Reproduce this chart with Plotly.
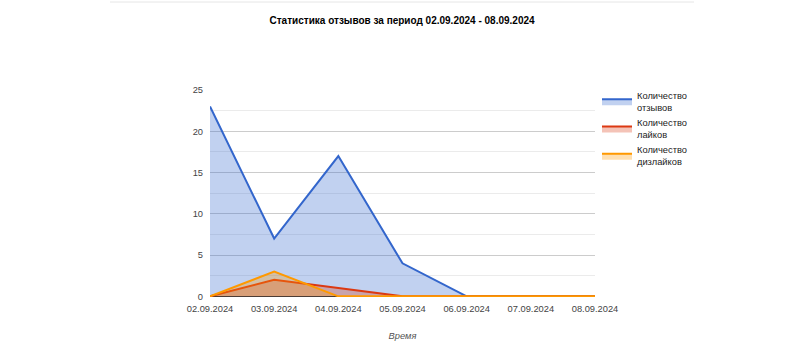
import plotly.graph_objects as go

dates = ["02.09.2024", "03.09.2024", "04.09.2024", "05.09.2024", "06.09.2024", "07.09.2024", "08.09.2024"]
reviews = [23, 7, 17, 4, 0, 0, 0]
likes = [0, 2, 1, 0, 0, 0, 0]
dislikes = [0, 3, 0, 0, 0, 0, 0]

names = ["Количество<br>отзывов", "Количество<br>лайков", "Количество<br>дизлайков"]
colors = ["#3366cc", "#dc3912", "#ff9900"]
fills = ["rgba(51,102,204,0.3)", "rgba(220,57,18,0.3)", "rgba(255,153,0,0.3)"]

fig = go.Figure()
for vals, name, c, f in zip([reviews, likes, dislikes], names, colors, fills):
    fig.add_trace(go.Scatter(
        x=dates, y=vals, name=name, mode="lines", fill="tozeroy",
        line=dict(color=c, width=2), fillcolor=f,
    ))

fig.update_layout(
    width=804, height=360,
    margin=dict(l=210, r=209, t=90, b=63),
    paper_bgcolor="white", plot_bgcolor="white",
    font=dict(family="Liberation Sans, Arial, sans-serif", size=9.3, color="#444"),
    title=dict(text="<b>Статистика отзывов за период 02.09.2024 - 08.09.2024</b>",
               x=401 / 804, xanchor="center", y=1 - 20 / 360, yanchor="middle",
               xref="paper", font=dict(size=10, color="#000")),
    xaxis=dict(type="category", range=[0, 6], showgrid=False, showline=False,
               ticks="", tickfont=dict(size=9.3, color="#444"), ticklabelstandoff=5,
               title=dict(text="<i>Время</i>", font=dict(size=9.3, color="#555"), standoff=19)),
    yaxis=dict(range=[-0.08, 25], dtick=5, tick0=0, showgrid=True, gridcolor="#cccccc",
               zeroline=True, zerolinecolor="#333333", zerolinewidth=1,
               ticks="", tickfont=dict(size=9.3, color="#444"), ticklabelstandoff=6,
               minor=dict(dtick=2.5, tick0=0, showgrid=True, gridcolor="#ebebeb")),
    legend=dict(x=(597 - 210) / 385, y=1.035, xanchor="left", yanchor="top",
                font=dict(size=9.3, color="#222"), tracegroupgap=2,
                itemwidth=30, bgcolor="rgba(0,0,0,0)"),
    showlegend=True,
)

fig.add_shape(type="line", xref="paper", yref="paper",
              x0=(110 - 210) / 385, x1=(694 - 210) / 385,
              y0=(297 - 2) / 207, y1=(297 - 2) / 207,
              line=dict(color="#e6e6e6", width=1))

fig.write_html("out.html", config={"displayModeBar": False},
               post_script="document.body.style.margin='0';document.body.style.padding='0';")
